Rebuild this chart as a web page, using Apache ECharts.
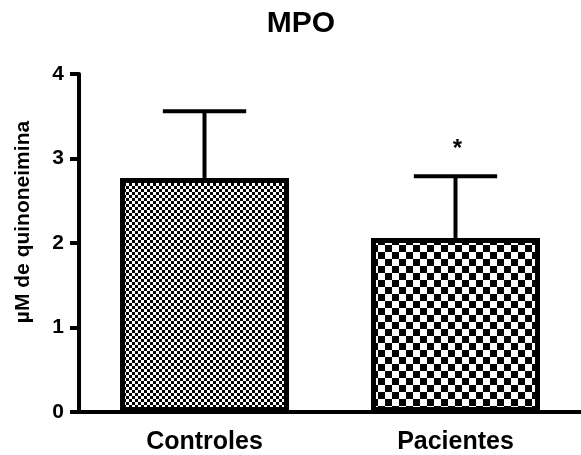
<!DOCTYPE html>
<html>
<head>
<meta charset="utf-8">
<script src="https://cdn.jsdelivr.net/npm/echarts@6/dist/echarts.min.js"></script>
<style>
html,body{margin:0;padding:0;background:#fff;}
#chart{width:581px;height:455px;}
</style>
</head>
<body>
<div id="chart"></div>
<script>
const categories = ['Controles', 'Pacientes'];
const means = [2.77, 2.06];
const sds = [0.79, 0.73];
const significance = ['', '*'];
const yTicks = [0, 1, 2, 3, 4];

function checker(cell) {
  const c = document.createElement('canvas');
  c.width = cell * 2; c.height = cell * 2;
  const ctx = c.getContext('2d');
  ctx.fillStyle = '#ffffff';
  ctx.fillRect(0, 0, c.width, c.height);
  ctx.fillStyle = '#000000';
  ctx.fillRect(0, 0, cell, cell);
  ctx.fillRect(cell, cell, cell, cell);
  return c;
}
const patterns = [checker(3), checker(7)];

const FONT = '"Liberation Sans", Arial, sans-serif';
const chart = echarts.init(document.getElementById('chart'));
chart.setOption({
  backgroundColor: '#ffffff',
  animation: false,
  title: {
    text: 'MPO',
    left: 301,
    textAlign: 'center',
    top: 9,
    padding: 0,
    textStyle: { fontFamily: FONT, fontWeight: 'bold', fontSize: 30, color: '#000' }
  },
  grid: { left: 79, top: 74, width: 506, bottom: 42.5, containLabel: false },
  xAxis: {
    type: 'category',
    data: categories,
    axisLine: { lineStyle: { color: '#000', width: 4 } },
    axisTick: { alignWithLabel: true, length: 10, lineStyle: { color: '#000', width: 4 } },
    axisLabel: { fontFamily: FONT, fontWeight: 'bold', fontSize: 25, color: '#000', margin: 18 }
  },
  yAxis: {
    type: 'value',
    min: yTicks[0],
    max: yTicks[yTicks.length - 1],
    interval: 1,
    name: 'µM de quinoneimina',
    nameLocation: 'middle',
    nameGap: 45,
    nameTextStyle: { fontFamily: FONT, fontWeight: 'bold', fontSize: 21, color: '#000', padding: [0, 0, 0, 42] },
    axisLine: { show: true, lineStyle: { color: '#000', width: 4 } },
    axisTick: { show: true, length: 9, lineStyle: { color: '#000', width: 4 } },
    axisLabel: { fontFamily: FONT, fontWeight: 'bold', fontSize: 21, color: '#000', margin: 15 },
    splitLine: { show: false }
  },
  series: [
    {
      type: 'custom',
      z: 1,
      data: means.map((m, i) => [i, m, sds[i]]),
      renderItem: function (params, api) {
        const i = api.value(0);
        const m = api.value(1);
        const s = api.value(2);
        const sig = significance[params.dataIndex];
        const base = api.coord([i, m]);
        const top = api.coord([i, m + s]);
        const half = api.size([1, 0])[0] * 0.166;
        const style = { stroke: '#000', lineWidth: 4 };
        const children = [
          { type: 'line', shape: { x1: base[0], y1: base[1], x2: top[0], y2: top[1] }, style: style },
          { type: 'line', shape: { x1: top[0] - half, y1: top[1], x2: top[0] + half, y2: top[1] }, style: style }
        ];
        if (sig) {
          children.push({
            type: 'text',
            x: top[0] + 2, y: top[1] - 27,
            style: { text: sig, fontFamily: FONT, fontWeight: 'bold', fontSize: 24, fill: '#000', align: 'center', verticalAlign: 'middle' }
          });
        }
        return { type: 'group', children: children };
      }
    },
    {
      type: 'bar',
      z: 2,
      barWidth: 169,
      data: means.map((m, i) => ({
        value: m,
        itemStyle: { color: { image: patterns[i], repeat: 'repeat' }, borderColor: '#000', borderWidth: 5 }
      }))
    }
  ]
});
</script>
</body>
</html>
